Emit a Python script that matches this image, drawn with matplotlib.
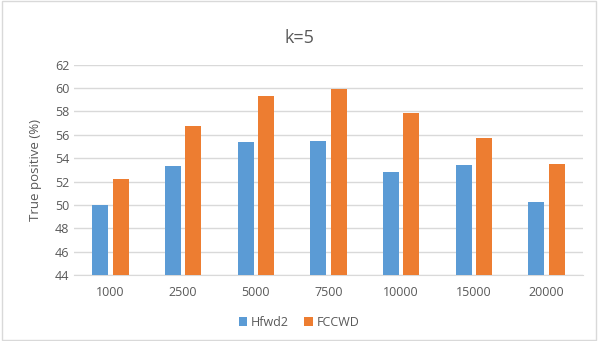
import matplotlib
matplotlib.use('Agg')
import matplotlib.pyplot as plt
import numpy as np

categories = ['1000', '2500', '5000', '7500', '10000', '15000', '20000']
hfwd2 = [50.0, 53.35, 55.4, 55.47, 52.78, 53.4, 50.22]
fccwd = [52.22, 56.76, 59.33, 59.88, 57.84, 55.72, 53.48]

plt.rcParams['font.family'] = ['Open Sans', 'DejaVu Sans']
text_color = '#595959'

fig = plt.figure(figsize=(5.98, 3.41), dpi=100)
ax = fig.add_axes([74 / 598, 1 - 275 / 341, (583 - 74) / 598, (275 - 64.7) / 341])

x = np.arange(len(categories))
w = 0.22
ax.bar(x - 0.14, hfwd2, w, color='#5B9BD5', label='Hfwd2', zorder=3)
ax.bar(x + 0.14, fccwd, w, color='#ED7D31', label='FCCWD', zorder=3)

ax.set_ylim(44, 62)
ax.set_yticks(range(44, 63, 2))
ax.set_xlim(-0.5, len(categories) - 0.5)
ax.set_xticks(x)
ax.set_xticklabels(categories)
ax.grid(axis='y', color='#D9D9D9', linewidth=1, zorder=0)
for s in ['top', 'right', 'left']:
    ax.spines[s].set_visible(False)
ax.spines['bottom'].set_color('#D9D9D9')
ax.tick_params(axis='both', length=0, colors=text_color, labelsize=9)
ax.tick_params(axis='x', pad=8)
ax.set_ylabel('True positive (%)', color=text_color, fontsize=9.5)
ax.yaxis.set_label_coords(-0.062, 0.5)

fig.text(0.5, 1 - 38 / 341, 'k=5', ha='center', va='center', fontsize=13, color=text_color)
fig.legend(loc='center', bbox_to_anchor=(0.5, 1 - 322 / 341), ncol=2, frameon=False,
           fontsize=9, handlelength=0.7, handleheight=0.7, handletextpad=0.3,
           columnspacing=1.2, labelcolor=text_color)

border = plt.Rectangle((0.003, 0.003), 0.994, 0.994, transform=fig.transFigure,
                       fill=False, edgecolor='#D9D9D9', linewidth=1)
fig.patches.append(border)

fig.savefig('out.png', dpi=100)
